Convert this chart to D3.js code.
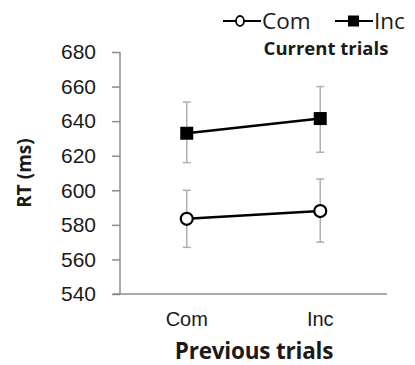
<!DOCTYPE html>
<html>
<head>
<meta charset="utf-8">
<script src="https://cdn.jsdelivr.net/npm/d3@7.9.0/dist/d3.min.js"></script>
<style>
  html, body { margin: 0; padding: 0; background: #fff; }
  svg { display: block; font-family: "Open Sans", Lato, sans-serif; }
</style>
</head>
<body>
<svg id="chart" width="415" height="365"></svg>
<script>
// -------------------------
// Data
// -------------------------
const categories = ['Com', 'Inc'];
const seriesNames = ['Com', 'Inc'];
const comMeans = [583.5, 588];
const comUpper = [600, 606.5];
const comLower = [567, 570];
const incMeans = [633, 641.5];
const incUpper = [651, 660];
const incLower = [616, 622];
const yTicks = [540, 560, 580, 600, 620, 640, 660, 680];

const series = [
  { name: seriesNames[0], means: comMeans, upper: comUpper, lower: comLower, marker: 'circle' },
  { name: seriesNames[1], means: incMeans, upper: incUpper, lower: incLower, marker: 'square' }
];

// -------------------------
// Layout
// -------------------------
const svg = d3.select('#chart');
const plotLeft = 120, plotRight = 387, plotTop = 52, plotBottom = 294;

const x = d3.scaleBand().domain(categories).range([plotLeft, plotRight]);
const y = d3.scaleLinear().domain([540, 680]).range([plotBottom, plotTop]);

const axisColor = '#8c8c8c';
const textColor = '#1a1a1a';

// y axis
const yAxis = svg.append('g')
  .attr('transform', `translate(${plotLeft},0)`)
  .call(d3.axisLeft(y).tickValues(yTicks).tickSize(8).tickPadding(16).tickFormat(d3.format('d')));
yAxis.select('.domain').attr('stroke', axisColor).attr('stroke-width', 1.5).attr('d', `M0,${plotTop}V${plotBottom}`);
yAxis.selectAll('.tick line').attr('stroke', axisColor).attr('stroke-width', 1.5);
yAxis.selectAll('.tick text').attr('font-size', 21).attr('fill', textColor);

// x axis
const xAxis = svg.append('g')
  .attr('transform', `translate(0,${plotBottom})`)
  .call(d3.axisBottom(x).tickSize(0).tickPadding(18));
xAxis.select('.domain').attr('stroke', axisColor).attr('stroke-width', 1.5).attr('d', `M${plotLeft - 7},0H${plotRight}`);
xAxis.selectAll('.tick text').attr('font-size', 20).attr('fill', textColor);

// axis titles
svg.append('text')
  .attr('transform', `translate(31,${(plotTop + plotBottom) / 2}) rotate(-90)`)
  .attr('text-anchor', 'middle')
  .attr('font-size', 19).attr('font-weight', 'bold').attr('fill', textColor)
  .text('RT (ms)');

svg.append('text')
  .attr('x', 254).attr('y', 359)
  .attr('text-anchor', 'middle')
  .attr('font-size', 22.5).attr('font-weight', 'bold').attr('fill', textColor)
  .attr('letter-spacing', -0.2)
  .text('Previous trials');

// -------------------------
// Series
// -------------------------
const cx = (c) => x(c) + x.bandwidth() / 2;
const line = d3.line().x((d, i) => cx(categories[i])).y(d => y(d));

series.forEach(s => {
  const g = svg.append('g');
  // error bars
  categories.forEach((c, i) => {
    g.append('line')
      .attr('x1', cx(c)).attr('x2', cx(c))
      .attr('y1', y(s.upper[i])).attr('y2', y(s.lower[i]))
      .attr('stroke', '#b0b0b0').attr('stroke-width', 1.5);
    [s.upper[i], s.lower[i]].forEach(v => {
      g.append('line')
        .attr('x1', cx(c) - 4).attr('x2', cx(c) + 4)
        .attr('y1', y(v)).attr('y2', y(v))
        .attr('stroke', '#b0b0b0').attr('stroke-width', 1.5);
    });
  });
  g.append('path')
    .attr('d', line(s.means))
    .attr('fill', 'none').attr('stroke', '#000').attr('stroke-width', 2.5);
  categories.forEach((c, i) => {
    if (s.marker === 'circle') {
      g.append('circle')
        .attr('cx', cx(c)).attr('cy', y(s.means[i])).attr('r', 6)
        .attr('fill', '#fff').attr('stroke', '#000').attr('stroke-width', 2.2);
    } else {
      g.append('rect')
        .attr('x', cx(c) - 6.5).attr('y', y(s.means[i]) - 6.5)
        .attr('width', 13).attr('height', 13).attr('fill', '#000');
    }
  });
});

// -------------------------
// Legend
// -------------------------
const legendX = [223, 335];
series.forEach((s, i) => {
  const g = svg.append('g').attr('transform', `translate(${legendX[i]},21)`);
  g.append('line').attr('x1', 0).attr('x2', 38).attr('y1', 0).attr('y2', 0)
    .attr('stroke', '#000').attr('stroke-width', 2);
  if (s.marker === 'circle') {
    g.append('ellipse').attr('cx', 17).attr('cy', 0).attr('rx', 4).attr('ry', 5)
      .attr('fill', '#fff').attr('stroke', '#000').attr('stroke-width', 1.8);
  } else {
    g.append('rect').attr('x', 13).attr('y', -5.5).attr('width', 11).attr('height', 11).attr('fill', '#000');
  }
  g.append('text').attr('x', 39).attr('y', 8)
    .attr('font-size', 22.5).attr('fill', textColor).text(s.name);
});

svg.append('text')
  .attr('x', 326).attr('y', 55)
  .attr('text-anchor', 'middle')
  .attr('font-size', 18.5).attr('font-weight', 'bold').attr('fill', textColor)
  .text('Current trials');
</script>
</body>
</html>
